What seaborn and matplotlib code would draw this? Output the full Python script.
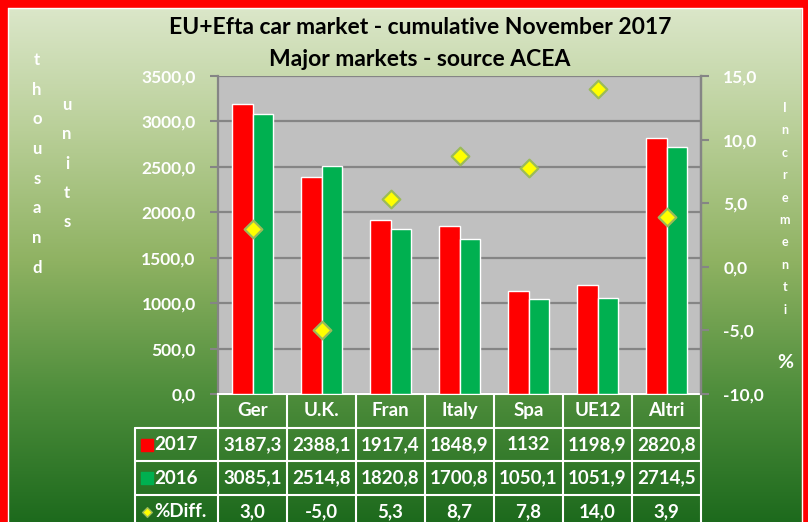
import numpy as np
import pandas as pd
import seaborn as sns
import matplotlib.pyplot as plt
from matplotlib.colors import LinearSegmentedColormap
from matplotlib.patches import Rectangle
from matplotlib.lines import Line2D
from matplotlib.ticker import FuncFormatter, MultipleLocator
from matplotlib.transforms import blended_transform_factory

mercati = ['Ger', 'U.K.', 'Fran', 'Italy', 'Spa', 'UE12', 'Altri']
v2017 = [3187.3, 2388.1, 1917.4, 1848.9, 1132, 1198.9, 2820.8]
v2016 = [3085.1, 2514.8, 1820.8, 1700.8, 1050.1, 1051.9, 2714.5]
diff = [3.0, -5.0, 5.3, 8.7, 7.8, 14.0, 3.9]
anni = ['2017', '2016']
colori = {'2017': '#ff0000', '2016': '#00b050'}

df = pd.DataFrame({'mercato': mercati * 2,
                   'anno': ['2017'] * len(mercati) + ['2016'] * len(mercati),
                   'valore': v2017 + v2016})
dd = pd.DataFrame({'mercato': mercati, 'diff': diff})

sns.set_style('white')
plt.rcParams['font.family'] = ['Lato', 'DejaVu Sans']
plt.rcParams['font.weight'] = 'bold'

W, H = 808, 522
fig = plt.figure(figsize=(W / 100, H / 100), dpi=100)

# sfondo sfumato verde
bg = fig.add_axes([0, 0, 1, 1], zorder=-10)
cmap = LinearSegmentedColormap.from_list('g', ['#dde8cc', '#b9cf98', '#8fb262', '#4f8e3c', '#1d6a1d'])
bg.imshow(np.linspace(0, 1, 256).reshape(-1, 1), aspect='auto', cmap=cmap, extent=[0, 1, 0, 1])
bg.set_xlim(0, 1)
bg.set_ylim(0, 1)
bg.axis('off')
# cornice rossa
bg.add_patch(Rectangle((0, 1 - 7 / H), 1, 7 / H, color='#ff0000'))
bg.add_patch(Rectangle((0, 0), 7 / W, 1, color='#ff0000'))
bg.add_patch(Rectangle((1 - 6 / W, 0), 6 / W, 1, color='#ff0000'))
bg.plot([7.5 / W, 7.5 / W], [0, 1 - 7.5 / H], color='white', lw=1)
bg.plot([1 - 6.5 / W, 1 - 6.5 / W], [0, 1 - 7.5 / H], color='white', lw=1)
bg.plot([7.5 / W, 1 - 6.5 / W], [1 - 7.5 / H, 1 - 7.5 / H], color='white', lw=1)

x0, x1, ytop, ybot = 218, 701, 76, 394
ax = fig.add_axes([x0 / W, 1 - ybot / H, (x1 - x0) / W, (ybot - ytop) / H])
ax.set_facecolor('#c0c0c0')

sns.barplot(data=df, x='mercato', y='valore', hue='anno', hue_order=anni,
            palette=colori, width=0.58, saturation=1, legend=False, ax=ax, zorder=3)
ax.set_ylim(0, 3500)
ax.yaxis.set_major_locator(MultipleLocator(500))
ax.yaxis.set_major_formatter(FuncFormatter(lambda v, p: f'{v:.1f}'.replace('.', ',')))
ax.grid(axis='y', color='#858585', lw=1.6, zorder=0)
ax.set_axisbelow(True)
ax.set_xlabel('')
ax.set_ylabel('')
ax.set_xticks([])
ax.tick_params(axis='y', colors='#858585', length=6, width=1.5, pad=10,
               labelcolor='white', labelsize=12.5)
for lab in ax.get_yticklabels():
    lab.set_fontweight('bold')
for s in ['left', 'right']:
    ax.spines[s].set_color('#858585')
    ax.spines[s].set_linewidth(1.6)
ax.spines['top'].set_visible(False)
ax.spines['bottom'].set_color('white')
ax.spines['bottom'].set_linewidth(1.5)

ax2 = ax.twinx()
sns.stripplot(data=dd, x='mercato', y='diff', marker='D', jitter=False, size=9,
              color='#ffff00', edgecolor='#9bbb59', linewidth=1.6, ax=ax2, zorder=5)
ax2.set_ylim(-10, 15)
ax2.set_xlim(-0.5, len(mercati) - 0.5)
ax.set_xlim(-0.5, len(mercati) - 0.5)
ax2.yaxis.set_major_locator(MultipleLocator(5))
ax2.yaxis.set_major_formatter(FuncFormatter(lambda v, p: f'{v:.1f}'.replace('.', ',')))
ax2.tick_params(axis='y', colors='#858585', length=6, width=1.5, pad=10,
                labelcolor='white', labelsize=12.5)
for lab in ax2.get_yticklabels():
    lab.set_fontweight('bold')
ax2.set_xlabel('')
ax2.set_ylabel('')
ax2.set_xticks([])
for s in ['top', 'bottom', 'left']:
    ax2.spines[s].set_visible(False)
ax2.spines['right'].set_color('#858585')
ax2.spines['right'].set_linewidth(1.6)

# tabella dati
tr = blended_transform_factory(ax.transData, ax.transAxes)
rh = 33.7 / (ybot - ytop)
n = len(mercati)
xl = -0.5 - 1.2
lk = dict(color='white', lw=1.5, transform=tr, clip_on=False)
for k in range(n + 1):
    ax.add_line(Line2D([k - 0.5, k - 0.5], [0, -4.5 * rh], **lk))
ax.add_line(Line2D([xl, xl], [-rh, -4.5 * rh], **lk))
for r in range(1, 4):
    ax.add_line(Line2D([xl, n - 0.5], [-r * rh, -r * rh], **lk))

fmt = lambda v: f'{v:g}'.replace('.', ',')
righe = [mercati, [fmt(v) for v in v2017], [fmt(v) for v in v2016],
         [f'{v:.1f}'.replace('.', ',') for v in diff]]
for r, riga in enumerate(righe):
    for i, t in enumerate(riga):
        ax.text(i, -(r + 0.5) * rh, t, transform=tr, ha='center', va='center',
                color='white', fontsize=13.5, fontweight='bold')

etichette = ['2017', '2016', '%Diff.']
for r, t in enumerate(etichette):
    yc = -(r + 1.5) * rh
    ax.text(xl + 0.28, yc, t, transform=tr, ha='left', va='center',
            color='white', fontsize=13.5, fontweight='bold')
ax.scatter([xl + 0.17] * 2, [-1.5 * rh, -2.5 * rh], marker='s', s=75,
           c=[colori['2017'], colori['2016']], transform=tr, clip_on=False)
ax.scatter([xl + 0.17], [-3.5 * rh], marker='D', s=24, c='#ffff00',
           edgecolors='#9bbb59', linewidths=1, transform=tr, clip_on=False)

# titoli
fig.text(420 / W, 1 - 28 / H, 'EU+Efta car market - cumulative November 2017',
         ha='center', va='center', fontsize=16.5, fontweight='bold', color='black')
fig.text(420 / W, 1 - 60 / H, 'Major markets - source ACEA',
         ha='center', va='center', fontsize=16.5, fontweight='bold', color='black')

# etichette assi verticali
for j, c in enumerate('thousand'):
    fig.text(37 / W, 1 - (60 + j * 29.7) / H, c, ha='center', va='center',
             color='white', fontsize=12, fontweight='bold')
for j, c in enumerate('units'):
    fig.text(67 / W, 1 - (105 + j * 29.3) / H, c, ha='center', va='center',
             color='white', fontsize=12, fontweight='bold')
for j, c in enumerate('Incrementi'):
    fig.text(785 / W, 1 - (108 + j * 22.4) / H, c, ha='center', va='center',
             color='white', fontsize=9, fontweight='bold')
fig.text(785 / W, 1 - 363 / H, '%', ha='center', va='center',
         color='white', fontsize=14, fontweight='bold')

fig.savefig('out.png', dpi=100)
